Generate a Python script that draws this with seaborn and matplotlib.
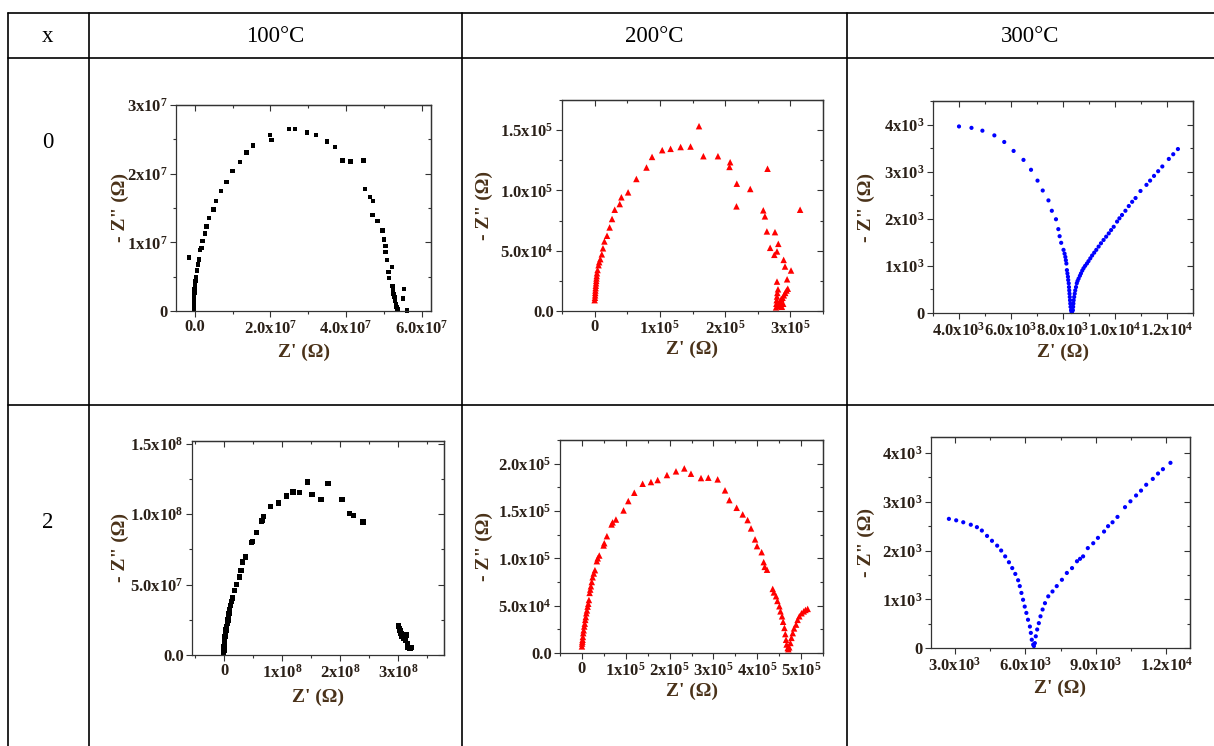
import numpy as np
import pandas as pd
import matplotlib
matplotlib.use("Agg")
import matplotlib.pyplot as plt
import seaborn as sns
from matplotlib.lines import Line2D
from matplotlib.ticker import FixedLocator, MultipleLocator, FixedFormatter

# ------------------------------------------------------------------ data
COL_HEADERS = ["x", "100°C", "200°C", "300°C"]
ROW_LABELS = ["0", "2"]
X_LABEL = "Z' (Ω)"
Y_LABEL = '- Z" (Ω)'

# x = 0, 100 °C   (values in 1e6 Ω)
P1_UNIT = 1e6
P1_ZRE = [-0.3, -0.3, -0.25, -0.2, -0.15, -0.1, 0.0, 0.1, 0.2, 0.3, 0.6, 0.9, 1.06, -1.5,
          1.3, 1.8, 2.0, 2.6, 3.1, 3.8, 4.9, 5.6, 6.9, 8.4, 10.0, 11.9, 13.7, 15.4, 19.9,
          20.3, 24.9, 26.5, 29.6, 32.0, 34.9, 37.1, 39.1, 41.2, 44.6, 45.0, 46.3, 47.2,
          47.0, 48.3, 49.7, 50.0, 50.5, 50.5, 50.9, 52.2, 51.3, 51.4, 52.3, 52.5, 52.6,
          52.8, 53.0, 53.2, 53.4, 53.6, 55.3, 55.1, 56.2]
P1_ZIM = [0.2, 0.8, 1.4, 2.0, 2.6, 3.2, 3.7, 4.1, 4.4, 4.9, 5.9, 6.8, 7.5, 7.8,
          8.85, 9.2, 10.2, 11.3, 12.3, 13.5, 14.8, 16.0, 17.5, 18.8, 20.4, 21.7, 23.1, 24.1, 25.6,
          24.9, 26.5, 26.5, 26.0, 25.6, 24.7, 23.9, 21.9, 21.8, 21.9, 17.8, 16.6, 16.0,
          14.0, 13.1, 11.7, 10.4, 9.5, 8.6, 7.4, 6.4, 5.7, 4.8, 3.6, 3.0, 2.5,
          2.0, 1.5, 1.0, 0.6, 0.25, 3.2, 1.8, 0.1]
P1_XTICKS = [0, 2e7, 4e7, 6e7]
P1_XTICKLABELS = ["0.0", "2.0x10^7", "4.0x10^7", "6.0x10^7"]
P1_YTICKS = [0, 1e7, 2e7, 3e7]
P1_YTICKLABELS = ["0", "1x10^7", "2x10^7", "3x10^7"]

# x = 0, 200 °C   (values in 1e3 Ω)
P2_UNIT = 1e3
P2_ZRE = [0, 0.5, 0.8, 1.0, 1.2, 1.5, 1.8, 2.2, 2.5, 2.8, 3.2, 3.6, 4.5, 6.0, 7.0, 8.7, 11.0,
          12.8, 15.0, 19.0, 23.0, 26.7, 30.8, 38.5, 41.0, 51.3, 64.0, 79.5, 88.0, 103.6,
          116.4, 131.8, 147.0, 160.0, 166.7, 189.0, 207.7, 206.7, 217.9, 238.5, 217.4,
          265.0, 258.5, 261.0, 264.0, 276.4, 269.0, 281.5, 275.4, 279.5, 289.7, 291.8,
          301.0, 295.0, 279.5, 314.9,
          278.0, 278.5, 279.0, 279.5, 280.0, 281.0, 282.0, 283.0, 284.0, 285.0, 286.0,
          288.0, 290.0, 292.0, 294.0, 296.0, 287.0, 289.0]
P2_ZIM = [9.0, 11.0, 13.0, 15.0, 17.0, 19.0, 21.0, 23.0, 25.0, 27.0, 29.0, 31.3, 34.0, 38.0,
          40.5, 43.0, 47.0, 52.0, 57.7, 62.4, 69.3, 76.3, 84.0, 88.7, 94.3, 98.4, 109.5,
          119.0, 127.8, 133.4, 134.5, 136.0, 136.4, 153.3, 128.4, 128.4, 123.4, 119.5,
          105.6, 101.2, 86.8, 118.0, 83.5, 78.5, 66.0, 65.4, 52.4, 55.7, 46.6, 49.4,
          42.4, 36.9, 33.6, 26.3, 24.4, 84.0,
          3.0, 6.0, 9.0, 12.0, 15.0, 18.0, 4.0, 7.0, 5.0, 8.0, 10.0, 11.0, 13.0, 15.0,
          17.0, 18.5, 3.5, 6.0]
P2_XTICKS = [0, 1e5, 2e5, 3e5]
P2_XTICKLABELS = ["0", "1x10^5", "2x10^5", "3x10^5"]
P2_YTICKS = [0, 5e4, 1e5, 1.5e5]
P2_YTICKLABELS = ["0.0", "5.0x10^4", "1.0x10^5", "1.5x10^5"]

# x = 0, 300 °C   (values in 1e3 Ω)
P3_UNIT = 1e3
P3_ZRE = [4.0, 4.48, 4.9, 5.36, 5.74, 6.1, 6.48, 6.77, 7.02, 7.22, 7.44, 7.57, 7.73, 7.82,
          7.87, 7.93, 8.02, 8.06, 8.09, 8.11, 8.13, 8.15, 8.17, 8.19, 8.2, 8.22, 8.23, 8.24,
          8.25, 8.26, 8.27, 8.28, 8.29, 8.31, 8.33, 8.35,
          8.38, 8.39, 8.4, 8.41, 8.43, 8.45, 8.47, 8.5, 8.53, 8.56, 8.6, 8.65, 8.69, 8.74,
          8.79, 8.85, 8.92, 8.98, 9.05, 9.12, 9.2, 9.28, 9.37, 9.46, 9.56, 9.66, 9.76, 9.85,
          9.95, 10.08, 10.17, 10.27, 10.4, 10.53, 10.66, 10.79, 10.98, 11.21, 11.35, 11.5,
          11.66, 11.82, 12.07, 12.24, 12.42]
P3_ZIM = [3.96, 3.93, 3.87, 3.77, 3.63, 3.44, 3.25, 3.04, 2.81, 2.6, 2.39, 2.17, 1.99, 1.78,
          1.63, 1.49, 1.34, 1.26, 1.19, 1.12, 1.05, 0.91, 0.84, 0.77, 0.70, 0.63, 0.55, 0.48,
          0.41, 0.34, 0.27, 0.2, 0.13, 0.06, 0.02, 0.03,
          0.06, 0.13, 0.2, 0.27, 0.34, 0.41, 0.48, 0.55, 0.63, 0.68, 0.73, 0.79, 0.84, 0.9,
          0.95, 1.0, 1.05, 1.1, 1.16, 1.22, 1.28, 1.34, 1.41, 1.48, 1.55, 1.62, 1.69, 1.76,
          1.83, 1.94, 2.01, 2.08, 2.17, 2.27, 2.36, 2.44, 2.59, 2.72, 2.81, 2.91,
          3.01, 3.11, 3.27, 3.37, 3.48]
P3_XTICKS = [4e3, 6e3, 8e3, 1e4, 1.2e4]
P3_XTICKLABELS = ["4.0x10^3", "6.0x10^3", "8.0x10^3", "1.0x10^4", "1.2x10^4"]
P3_YTICKS = [0, 1e3, 2e3, 3e3, 4e3]
P3_YTICKLABELS = ["0", "1x10^3", "2x10^3", "3x10^3", "4x10^3"]

# x = 2, 100 °C   (values in 1e7 Ω)
P4_UNIT = 1e7
P4_ZRE = [-0.17, -0.1, -0.06, 0.0, 0.05, 0.11, 0.2, 0.29, 0.4, 0.51, 0.6, 0.69, 0.8, 0.9,
          1.0, 1.2, 1.43, 1.71, 2.1, 2.57, 2.86, 3.14, 3.66, 4.7, 4.86, 5.54, 6.4, 6.51,
          6.69, 8.0, 9.37, 10.69, 11.83, 12.97, 14.29, 15.09, 16.69, 17.89, 20.29, 21.54,
          22.23, 23.94,
          30.0, 30.2, 30.3, 30.5, 30.6, 30.9, 31.1, 31.4, 31.3, 31.6, 31.7, 32.0, 32.3]
P4_ZIM = [0.12, 0.35, 0.59, 0.8, 1.06, 1.3, 1.54, 1.78, 2.0, 2.25, 2.48, 2.7, 2.95, 3.2,
          3.5, 3.8, 4.06, 4.6, 5.0, 5.55, 6.0, 6.6, 6.97, 8.0, 8.08, 8.69, 9.5, 9.57,
          9.85, 10.56, 10.79, 11.29, 11.57, 11.53, 12.28, 11.41, 11.05, 12.16, 11.03, 10.04,
          9.92, 9.45,
          2.05, 1.89, 1.72, 1.54, 1.35, 1.18, 1.3, 1.42, 1.06, 0.83, 0.54, 0.47, 0.52]
P4_XTICKS = [0, 1e8, 2e8, 3e8]
P4_XTICKLABELS = ["0", "1x10^8", "2x10^8", "3x10^8"]
P4_YTICKS = [0, 5e7, 1e8, 1.5e8]
P4_YTICKLABELS = ["0.0", "5.0x10^7", "1.0x10^8", "1.5x10^8"]

# x = 2, 200 °C   (values in 1e3 Ω)
P5_UNIT = 1e3
P5_ZRE = [0, 0.5, 1.0, 1.5, 2.2, 3.0, 4.0, 5.3, 6.5, 7.6, 8.8, 10.0, 11.5, 13.0, 14.5, 16.0,
          17.5, 19.0, 20.5, 22.5, 24.4, 27.0, 29.7, 34.0, 36.0, 39.6, 49.5, 51.0, 57.0,
          67.7, 70.0, 77.6, 95.0, 105.8, 119.5, 138.5, 157.5, 172.8, 194.0, 214.6, 233.6,
          248.8, 271.7, 288.4, 309.7, 326.5, 336.4, 353.0, 366.8, 378.0, 385.8, 395.0,
          399.5, 410.0, 414.7, 417.0, 422.3, 435.3, 438.0, 442.9, 446.0, 450.5, 453.0,
          456.6, 459.0, 462.0, 464.0, 465.7, 467.0, 469.5, 471.0, 473.0, 475.6, 478.0,
          481.0, 484.0, 488.6, 492.0, 496.0, 501.0, 506.0, 510.0, 515.0]
P5_ZIM = [7, 10, 12, 14, 17, 21, 24, 28, 31, 35, 38, 42, 45, 49, 52, 56,
          63.5, 67, 70.5, 75, 80, 84, 87.5, 97, 100, 103, 113.6, 116, 123.4,
          135.8, 138, 141, 150.6, 160.5, 169.3, 178.8, 180.6, 182.7, 188, 191.9, 195,
          189.4, 184.8, 185.2, 183.4, 171.8, 161.5, 153.4, 146.4, 140.4, 131.6, 120,
          112.9, 106.5, 96, 91, 88, 67.7, 64, 60, 55, 49.4, 44,
          38.8, 33, 26.5, 20, 14, 9, 5.3, 4, 6, 10.6, 16,
          21, 26, 30, 35, 38.8, 42, 44, 45.5, 46.6]
P5_XTICKS = [0, 1e5, 2e5, 3e5, 4e5, 5e5]
P5_XTICKLABELS = ["0", "1x10^5", "2x10^5", "3x10^5", "4x10^5", "5x10^5"]
P5_YTICKS = [0, 5e4, 1e5, 1.5e5, 2e5]
P5_YTICKLABELS = ["0.0", "5.0x10^4", "1.0x10^5", "1.5x10^5", "2.0x10^5"]

# x = 2, 300 °C   (values in 1e3 Ω)
P6_UNIT = 1e3
P6_ZRE = [2.76, 3.07, 3.37, 3.69, 3.95, 4.16, 4.38, 4.59, 4.81, 4.98, 5.15, 5.31, 5.45, 5.58,
          5.7, 5.77, 5.84, 5.91, 5.98, 6.05, 6.12, 6.2, 6.24, 6.28, 6.34, 6.37,
          6.41, 6.45, 6.51, 6.58, 6.65, 6.74, 6.84, 6.98, 7.16, 7.34, 7.56, 7.77, 7.99, 8.2,
          8.33, 8.46, 8.66, 8.89, 9.09, 9.35, 9.52, 9.71, 9.92, 10.24, 10.47, 10.71, 10.92,
          11.14, 11.42, 11.64, 11.85, 12.17]
P6_ZIM = [2.65, 2.62, 2.58, 2.53, 2.48, 2.41, 2.3, 2.2, 2.1, 2.0, 1.88, 1.76, 1.64, 1.52,
          1.39, 1.27, 1.13, 0.99, 0.85, 0.72, 0.58, 0.44, 0.31, 0.17, 0.07, 0.04,
          0.1, 0.24, 0.38, 0.51, 0.65, 0.79, 0.92, 1.06, 1.16, 1.27, 1.4, 1.54, 1.64, 1.78,
          1.83, 1.88, 2.05, 2.15, 2.26, 2.39, 2.5, 2.58, 2.69, 2.89, 3.01, 3.13, 3.23,
          3.35, 3.47, 3.58, 3.67, 3.8]
P6_XTICKS = [3e3, 6e3, 9e3, 1.2e4]
P6_XTICKLABELS = ["3.0x10^3", "6.0x10^3", "9.0x10^3", "1.2x10^4"]
P6_YTICKS = [0, 1e3, 2e3, 3e3, 4e3]
P6_YTICKLABELS = ["0", "1x10^3", "2x10^3", "3x10^3", "4x10^3"]

# ------------------------------------------------------------------ style
sns.set_theme(style="white")
plt.rcParams["font.family"] = ["Liberation Serif", "DejaVu Serif"]
plt.rcParams["mathtext.fontset"] = "custom"
plt.rcParams["mathtext.rm"] = "Liberation Serif:bold"
plt.rcParams["mathtext.it"] = "Liberation Serif:bold:italic"
plt.rcParams["mathtext.bf"] = "Liberation Serif:bold"
plt.rcParams["mathtext.default"] = "rm"

W, H = 1214, 746
fig = plt.figure(figsize=(W / 100, H / 100), dpi=100)
fig.patch.set_facecolor("white")

TICK_COLOR = "#2a2018"
LABEL_COLOR = "#4a3219"
SPINE_COLOR = "#333333"


def mt(s):
    if "^" in s:
        base, exp = s.split("^")
        return base + r"$^{" + exp + "}$"
    return s


def make_df(zre, zim, unit):
    return pd.DataFrame({"zre": np.array(zre) * unit, "zim": np.array(zim) * unit})


panels = [
    dict(df=make_df(P1_ZRE, P1_ZIM, P1_UNIT), box=(176, 105, 431, 311), xlab_y=352, ylab_x=120,
         xlim=(-5e6, 6.25e7), ylim=(0, 3e7), xt=P1_XTICKS, xtl=P1_XTICKLABELS,
         yt=P1_YTICKS, ytl=P1_YTICKLABELS, xminor=1e7, yminor=5e6,
         marker="s", color="black", s=10),
    dict(df=make_df(P2_ZRE, P2_ZIM, P2_UNIT), box=(562, 100, 823, 311), xlab_y=349, ylab_x=484,
         xlim=(-5e4, 3.5e5), ylim=(0, 1.75e5), xt=P2_XTICKS, xtl=P2_XTICKLABELS,
         yt=P2_YTICKS, ytl=P2_YTICKLABELS, xminor=5e4, yminor=2.5e4,
         marker="^", color="#ff0000", s=22),
    dict(df=make_df(P3_ZRE, P3_ZIM, P3_UNIT), box=(933, 101, 1193, 313), xlab_y=352, ylab_x=866,
         xlim=(3e3, 1.3e4), ylim=(0, 4.5e3), xt=P3_XTICKS, xtl=P3_XTICKLABELS,
         yt=P3_YTICKS, ytl=P3_YTICKLABELS, xminor=1e3, yminor=5e2,
         marker="o", color="#0000ff", s=9),
    dict(df=make_df(P4_ZRE, P4_ZIM, P4_UNIT), box=(192, 441, 444, 655), xlab_y=697, ylab_x=120,
         xlim=(-5.6e7, 3.79e8), ylim=(0, 1.52e8), xt=P4_XTICKS, xtl=P4_XTICKLABELS,
         yt=P4_YTICKS, ytl=P4_YTICKLABELS, xminor=5e7, yminor=2.5e7,
         marker="s", color="black", s=15),
    dict(df=make_df(P5_ZRE, P5_ZIM, P5_UNIT), box=(560, 440, 823, 653), xlab_y=691, ylab_x=484,
         xlim=(-5e4, 5.5e5), ylim=(0, 2.25e5), xt=P5_XTICKS, xtl=P5_XTICKLABELS,
         yt=P5_YTICKS, ytl=P5_YTICKLABELS, xminor=5e4, yminor=2.5e4,
         marker="^", color="#ff0000", s=22),
    dict(df=make_df(P6_ZRE, P6_ZIM, P6_UNIT), box=(931, 437, 1190, 648), xlab_y=688, ylab_x=866,
         xlim=(2e3, 1.3e4), ylim=(0, 4.33e3), xt=P6_XTICKS, xtl=P6_XTICKLABELS,
         yt=P6_YTICKS, ytl=P6_YTICKLABELS, xminor=1.5e3, yminor=5e2,
         marker="o", color="#0000ff", s=9),
]

for p in panels:
    l, t, r, b = p["box"]
    ax = fig.add_axes([l / W, 1 - b / H, (r - l) / W, (b - t) / H])
    sns.scatterplot(data=p["df"], x="zre", y="zim", ax=ax, marker=p["marker"],
                    color=p["color"], s=p["s"], linewidth=0, edgecolor="none",
                    clip_on=False, legend=False)
    ax.set_xlim(*p["xlim"])
    ax.set_ylim(*p["ylim"])
    ax.xaxis.set_major_locator(FixedLocator(p["xt"]))
    ax.xaxis.set_major_formatter(FixedFormatter([mt(s) for s in p["xtl"]]))
    ax.yaxis.set_major_locator(FixedLocator(p["yt"]))
    ax.yaxis.set_major_formatter(FixedFormatter([mt(s) for s in p["ytl"]]))
    ax.xaxis.set_minor_locator(MultipleLocator(p["xminor"]))
    ax.yaxis.set_minor_locator(MultipleLocator(p["yminor"]))
    ax.tick_params(which="major", direction="out", length=4, width=0.8,
                   color=SPINE_COLOR, labelsize=12, labelcolor=TICK_COLOR, pad=2,
                   bottom=True, left=True)
    ax.tick_params(which="minor", direction="out", length=2, width=0.8,
                   color=SPINE_COLOR, bottom=True, left=True)
    for lab in ax.get_xticklabels() + ax.get_yticklabels():
        lab.set_fontweight("bold")
    for sp in ax.spines.values():
        sp.set_color(SPINE_COLOR)
        sp.set_linewidth(0.9)
        sp.set_visible(True)
    ax.set_xlabel(X_LABEL, fontsize=14, fontweight="bold", color=LABEL_COLOR)
    ax.set_ylabel(Y_LABEL, fontsize=14, fontweight="bold", color=LABEL_COLOR)
    ax.xaxis.set_label_coords(((l + r) / 2) / W, 1 - p["xlab_y"] / H, transform=fig.transFigure)
    ax.xaxis.label.set_va("center")
    ax.yaxis.set_label_coords(p["ylab_x"] / W, 1 - ((t + b) / 2) / H, transform=fig.transFigure)
    ax.yaxis.label.set_va("center")
    ax.set_facecolor("white")

    # inward ticks on top and right
    secx = ax.secondary_xaxis("top")
    secx.xaxis.set_major_locator(FixedLocator(p["xt"]))
    secx.xaxis.set_minor_locator(MultipleLocator(p["xminor"]))
    secx.tick_params(which="major", direction="in", length=4, width=0.8, color=SPINE_COLOR,
                     labeltop=False)
    secx.tick_params(which="minor", direction="in", length=2, width=0.8, color=SPINE_COLOR)
    secx.spines["top"].set_color(SPINE_COLOR)
    secx.spines["top"].set_linewidth(0.9)
    secy = ax.secondary_yaxis("right")
    secy.yaxis.set_major_locator(FixedLocator(p["yt"]))
    secy.yaxis.set_minor_locator(MultipleLocator(p["yminor"]))
    secy.tick_params(which="major", direction="in", length=4, width=0.8, color=SPINE_COLOR,
                     labelright=False)
    secy.tick_params(which="minor", direction="in", length=2, width=0.8, color=SPINE_COLOR)
    secy.spines["right"].set_color(SPINE_COLOR)
    secy.spines["right"].set_linewidth(0.9)

# ------------------------------------------------------------------ table frame
LINE_KW = dict(color="black", linewidth=1.2, transform=fig.transFigure)
for y in (12.5, 58, 405):
    fig.add_artist(Line2D([8 / W, 1.0], [1 - y / H, 1 - y / H], **LINE_KW))
for x in (8, 89, 462, 847):
    fig.add_artist(Line2D([x / W, x / W], [1 - 12.5 / H, 0.0], **LINE_KW))

header_x = [48, 275, 654, 1030]
for hx, txt in zip(header_x, COL_HEADERS):
    fig.text(hx / W, 1 - 36 / H, txt, ha="center", va="center", fontsize=16.5,
             family="Liberation Serif", color="black")
row_y = [143, 522]
for ry, txt in zip(row_y, ROW_LABELS):
    fig.text(48 / W, 1 - ry / H, txt, ha="center", va="center", fontsize=16.5,
             family="Liberation Serif", color="black")

fig.savefig("out.png", dpi=100, facecolor="white")
